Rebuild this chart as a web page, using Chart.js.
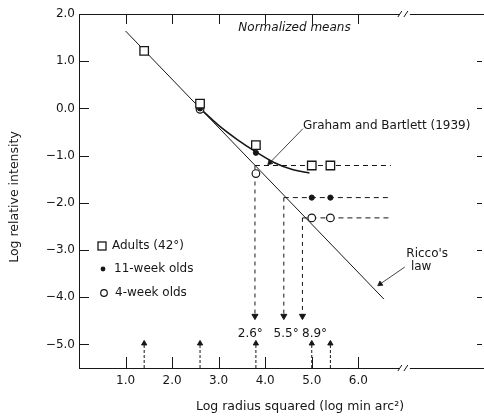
<!DOCTYPE html>
<html>
<head>
<meta charset="utf-8">
<script src="https://cdn.jsdelivr.net/npm/chart.js@4.4.1/dist/chart.umd.min.js"></script>
<style>
  html, body { margin: 0; padding: 0; background: #fff; }
</style>
</head>
<body>
<canvas id="chart" width="484" height="417"></canvas>
<script>
// axis ticks
const xTicks = [1, 2, 3, 4, 5, 6];
const yTicks = [2, 1, 0, -1, -2, -3, -4, -5];
const axisBreak = 7.0;

// normalized means
const adults = [[1.4, 1.22], [2.6, 0.1], [3.8, -0.78], [5.0, -1.21], [5.4, -1.21]];
const weeks11 = [[2.6, 0.0], [3.8, -0.94], [5.0, -1.89], [5.4, -1.89]];
const weeks4 = [[2.6, -0.02], [3.8, -1.38], [5.0, -2.32], [5.4, -2.32]];

// Ricco's law and the Graham and Bartlett (1939) curve
const riccoLine = [[1.0, 1.64], [6.55, -4.04]];
const grahamCurve = [[2.6, 0.0], [3.0, -0.36], [3.4, -0.66], [3.8, -0.92], [4.2, -1.15], [4.6, -1.3], [4.95, -1.37]];

// plateaus and the critical sizes where they meet Ricco's law
const plateauStart = [3.78, 4.4, 4.8];
const plateauLevel = [-1.21, -1.89, -2.32];
const plateauEnd = 6.7;
const arrowTipY = -4.4;
const criticalLabels = ['2.6°', '5.5°', '8.9°'];
const criticalLabelX = [3.68, 4.45, 5.06];

// stimulus sizes marked along the x axis
const stimulusX = [1.4, 2.6, 3.8, 5.0, 5.4];

const ink = '#161616';
const family = "'DejaVu Sans', sans-serif";
const pts = a => a.map(([x, y]) => ({ x, y }));

const datasets = [];
datasets.push({ data: pts(riccoLine), showLine: true, borderColor: ink, borderWidth: 1, pointRadius: 0, order: 5 });
datasets.push({ data: pts(grahamCurve), showLine: true, borderColor: ink, borderWidth: 1.6, pointRadius: 0,
  cubicInterpolationMode: 'monotone', order: 5 });

plateauStart.forEach((x0, i) => {
  datasets.push({ data: [{ x: x0, y: plateauLevel[i] }, { x: plateauEnd, y: plateauLevel[i] }],
    showLine: true, borderColor: ink, borderWidth: 1, borderDash: [5, 4], pointRadius: 0, order: 6 });
  datasets.push({ data: [{ x: x0, y: plateauLevel[i] }, { x: x0, y: arrowTipY }],
    showLine: true, borderColor: ink, borderWidth: 1, borderDash: [4, 4],
    pointRadius: [0, 3.5], pointStyle: 'triangle', rotation: 180,
    pointBackgroundColor: ink, pointBorderColor: ink, order: 6 });
});

stimulusX.forEach(sx => {
  datasets.push({ data: [{ x: sx, y: -5.5 }, { x: sx, y: -4.98 }],
    showLine: true, borderColor: ink, borderWidth: 1, borderDash: [3, 2],
    pointRadius: [0, 3], pointStyle: 'triangle', pointBackgroundColor: ink, pointBorderColor: ink, order: 6 });
});

// label pointers
datasets.push({ data: [{ x: 4.81, y: -0.43 }, { x: 4.1, y: -1.15 }], showLine: true, borderColor: ink,
  borderWidth: 0.8, pointRadius: [0, 3], pointStyle: 'triangle', rotation: 224,
  pointBackgroundColor: ink, pointBorderColor: ink, order: 6 });
datasets.push({ data: [{ x: 7.0, y: -3.36 }, { x: 6.47, y: -3.72 }], showLine: true, borderColor: ink,
  borderWidth: 0.8, pointRadius: [0, 3], pointStyle: 'triangle', rotation: 235,
  pointBackgroundColor: ink, pointBorderColor: ink, order: 6 });

datasets.push({ data: pts(adults), pointStyle: 'rect', pointRadius: 6, backgroundColor: '#fff',
  borderColor: ink, borderWidth: 1.3, order: 0 });
datasets.push({ data: pts(weeks11), pointStyle: 'circle', pointRadius: 2.6, backgroundColor: ink,
  borderColor: ink, borderWidth: 1, order: 0 });
datasets.push({ data: pts(weeks4), pointStyle: 'circle', pointRadius: 3.8, backgroundColor: '#fff',
  borderColor: ink, borderWidth: 1.2, order: 0 });

function seg(ctx, x1, y1, x2, y2) {
  ctx.beginPath();
  ctx.moveTo(x1, y1);
  ctx.lineTo(x2, y2);
  ctx.stroke();
}

const decor = {
  id: 'decor',
  afterDraw(chart) {
    const { ctx, chartArea: a, scales: { x, y } } = chart;
    ctx.save();
    ctx.strokeStyle = ink;
    ctx.fillStyle = ink;
    ctx.lineWidth = 1;

    // top frame and inward ticks
    seg(ctx, a.left, a.top + 0.5, a.right, a.top + 0.5);
    xTicks.forEach(v => {
      const px = Math.round(x.getPixelForValue(v)) + 0.5;
      seg(ctx, px, a.top, px, a.top + 10);
      seg(ctx, px, a.bottom, px, a.bottom - 11);
    });
    yTicks.forEach(v => {
      const py = Math.round(y.getPixelForValue(v)) + 0.5;
      seg(ctx, a.left, py, a.left + 10, py);
      if (v < 2) seg(ctx, a.right - 7, py, a.right - 2, py);
    });

    // axis breaks
    const bx = x.getPixelForValue(axisBreak);
    [a.top, a.bottom].forEach(py => {
      ctx.fillStyle = '#fff';
      ctx.fillRect(bx - 5, py - 2, 10, 4);
      ctx.fillStyle = ink;
      seg(ctx, bx - 7, py + 3, bx - 3, py - 3);
      seg(ctx, bx - 1, py + 3, bx + 3, py - 3);
    });

    ctx.textBaseline = 'middle';

    // annotations
    ctx.textAlign = 'center';
    ctx.font = `italic 12px ${family}`;
    ctx.fillText('Normalized means', x.getPixelForValue(4.63), y.getPixelForValue(1.7));
    ctx.font = `12px ${family}`;
    ctx.textAlign = 'left';
    ctx.fillText('Graham and Bartlett (1939)', x.getPixelForValue(4.81), y.getPixelForValue(-0.36));
    ctx.textAlign = 'center';
    ctx.fillText("Ricco's", x.getPixelForValue(7.48), y.getPixelForValue(-3.09));
    ctx.fillText('law', x.getPixelForValue(7.35), y.getPixelForValue(-3.36));
    criticalLabels.forEach((t, i) => {
      ctx.fillText(t, x.getPixelForValue(criticalLabelX[i]), y.getPixelForValue(-4.77));
    });

    // legend
    const lx = a.left + 23;
    const rows = [246, 269, 293];
    ctx.lineWidth = 1.3;
    ctx.fillStyle = '#fff';
    ctx.fillRect(lx - 4, rows[0] - 4, 8, 8);
    ctx.strokeRect(lx - 4, rows[0] - 4, 8, 8);
    ctx.fillStyle = ink;
    ctx.beginPath(); ctx.arc(lx + 1, rows[1], 2.4, 0, Math.PI * 2); ctx.fill();
    ctx.lineWidth = 1.2;
    ctx.beginPath(); ctx.arc(lx + 2, rows[2], 3.3, 0, Math.PI * 2); ctx.stroke();
    ctx.textAlign = 'left';
    ctx.fillText('Adults (42°)', lx + 10, rows[0]);
    ctx.fillText('11-week olds', lx + 12, rows[1]);
    ctx.fillText('4-week olds', lx + 13, rows[2]);

    // axis titles
    ctx.font = `12.5px ${family}`;
    ctx.textAlign = 'center';
    ctx.fillText('Log radius squared (log min arc²)', 300, 407);
    ctx.translate(15, 197);
    ctx.rotate(-Math.PI / 2);
    ctx.fillText('Log relative intensity', 0, 0);
    ctx.restore();
  }
};

new Chart(document.getElementById('chart'), {
  type: 'scatter',
  data: { datasets },
  options: {
    responsive: false,
    animation: false,
    devicePixelRatio: 1,
    layout: { autoPadding: false, padding: { top: 14, right: 0, left: 0, bottom: 0 } },
    plugins: { legend: { display: false }, tooltip: { enabled: false } },
    scales: {
      x: {
        type: 'linear', min: 0, max: 8.7,
        grid: { display: false, drawTicks: false },
        border: { color: ink, width: 1 },
        ticks: { padding: 6, color: ink, font: { family, size: 12 }, callback: v => v.toFixed(1) },
        afterBuildTicks: s => { s.ticks = xTicks.map(value => ({ value })); },
        afterFit: s => { s.height = 49; s.paddingRight = 0; s.paddingLeft = 0; }
      },
      y: {
        type: 'linear', min: -5.5, max: 2,
        grid: { display: false, drawTicks: false },
        border: { color: ink, width: 1 },
        ticks: { padding: 4, color: ink, font: { family, size: 12 },
          callback: v => (v < 0 ? '−' : '') + Math.abs(v).toFixed(1) },
        afterBuildTicks: s => { s.ticks = yTicks.map(value => ({ value })); },
        afterFit: s => { s.width = 79; s.paddingTop = 0; s.paddingBottom = 0; }
      }
    }
  },
  plugins: [decor]
});
</script>
</body>
</html>
